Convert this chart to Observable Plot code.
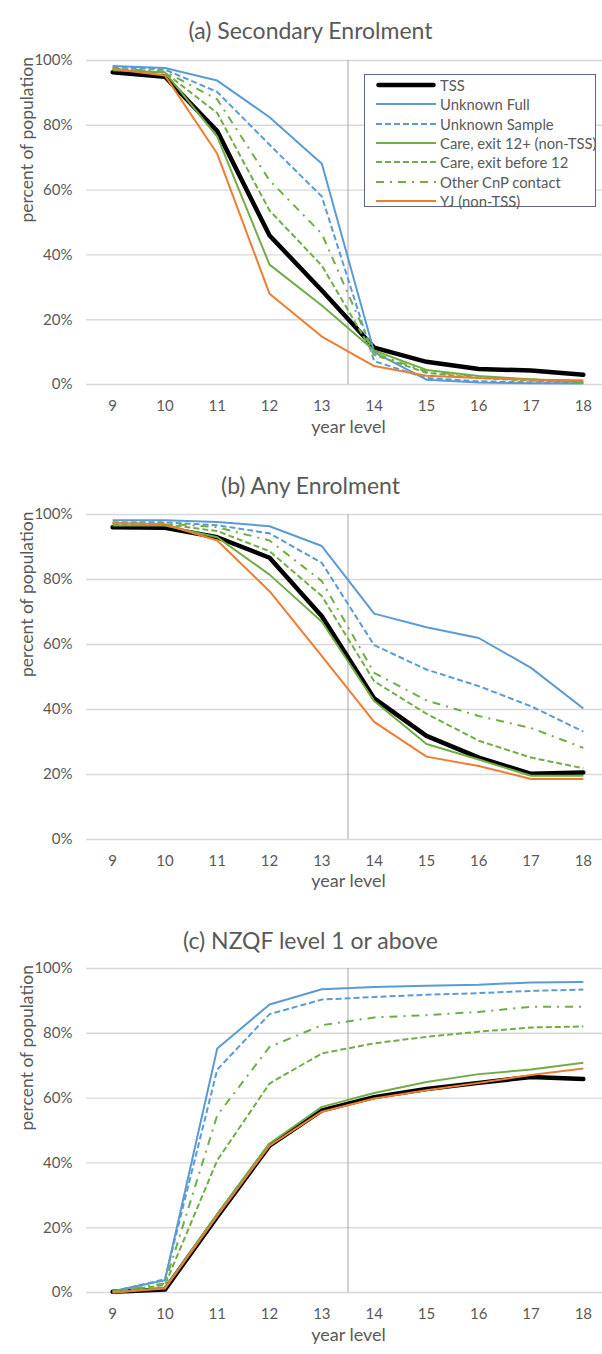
<!DOCTYPE html>
<html><head><meta charset="utf-8">
<script src="https://cdn.jsdelivr.net/npm/d3@7"></script>
<script src="https://cdn.jsdelivr.net/npm/@observablehq/plot@0.6"></script>
<style>
html,body{margin:0;padding:0;background:#fff}
body{width:602px;height:1354px;overflow:hidden;position:relative;font-family:Lato,"Open Sans",sans-serif;color:#595959}
.panel{position:absolute;left:0;width:602px}
.border{position:absolute;left:9px;width:1px;background:#cfcfcf}
.legend{position:absolute;left:364px;top:74px;width:232px;height:133px;border:1px solid #5a6a82;background:#fff;box-sizing:border-box}
.lrow{position:absolute;left:0;height:20px;display:flex;align-items:center;white-space:nowrap}
.lrow svg{display:block;margin-left:10px}
.lrow span{margin-left:3px;font-size:14.8px;color:#595959;font-family:Lato,sans-serif}
</style>
</head><body>
<div class="border" style="top:8px;height:439px"></div>
<div class="border" style="top:451px;height:447px"></div>
<div class="border" style="top:910px;height:444px"></div>
<div id="pa" class="panel" style="top:0"></div>
<div id="pb" class="panel" style="top:450px"></div>
<div id="pc" class="panel" style="top:900px"></div>
<div id="legend" class="legend"></div>
<script>
// ---------- data ----------
const years = [9, 10, 11, 12, 13, 14, 15, 16, 17, 18];
const seriesNames = ["TSS", "Unknown Full", "Unknown Sample", "Care, exit 12+ (non-TSS)", "Care, exit before 12", "Other CnP contact", "YJ (non-TSS)"];
const yTicks = [0, 20, 40, 60, 80, 100];
const panelTitles = ["(a) Secondary Enrolment", "(b) Any Enrolment", "(c) NZQF level 1 or above"];
const xLabel = "year level";
const yLabel = "percent of population";
const dividerAt = [13.5];

// (a) Secondary Enrolment, percent
const secTSS           = [96.4, 95.0, 78.2, 46.0, 29.0, 11.4, 7.0, 4.8, 4.3, 3.0];
const secUnknownFull   = [98.3, 97.7, 93.8, 82.5, 68.1, 10.0, 1.5, 0.6, 0.4, 0.3];
const secUnknownSample = [98.0, 97.2, 90.3, 74.0, 58.0, 7.2, 2.0, 1.0, 0.7, 0.5];
const secCare12        = [97.0, 96.3, 76.5, 37.0, 24.4, 10.5, 4.5, 2.6, 1.6, 0.8];
const secCareBefore    = [97.5, 96.3, 83.8, 53.7, 36.7, 9.2, 3.6, 2.0, 1.2, 0.8];
const secOtherCnP      = [97.5, 96.6, 88.0, 63.0, 46.5, 9.6, 4.0, 2.4, 1.5, 1.0];
const secYJ            = [97.4, 95.4, 71.2, 28.0, 14.8, 5.7, 2.7, 2.0, 1.5, 1.3];

// (b) Any Enrolment, percent
const anyTSS           = [96.1, 95.9, 93.0, 86.7, 68.7, 43.4, 31.9, 25.2, 20.2, 20.6];
const anyUnknownFull   = [98.2, 98.2, 97.7, 96.4, 90.3, 69.5, 65.3, 62.0, 52.8, 40.3];
const anyUnknownSample = [97.6, 97.6, 96.7, 94.2, 85.1, 59.8, 52.3, 47.2, 41.0, 33.2];
const anyCare12        = [96.6, 96.6, 93.0, 81.5, 67.0, 42.6, 29.4, 24.6, 19.6, 19.6];
const anyCareBefore    = [97.0, 97.0, 94.9, 88.7, 74.9, 48.7, 38.7, 30.4, 25.2, 21.9];
const anyOtherCnP      = [97.2, 97.2, 96.1, 92.0, 79.5, 51.3, 42.8, 38.0, 34.3, 28.2];
const anyYJ            = [97.4, 97.0, 92.0, 76.4, 56.4, 36.2, 25.5, 22.6, 18.6, 18.6];

// (c) NZQF level 1 or above, percent
const nzqTSS           = [0.2, 0.9, 23.4, 45.3, 56.2, 60.3, 62.8, 64.7, 66.5, 65.9];
const nzqUnknownFull   = [0.4, 3.8, 75.3, 88.9, 93.6, 94.3, 94.7, 95.0, 95.7, 95.8];
const nzqUnknownSample = [0.3, 4.1, 68.8, 85.9, 90.4, 91.2, 91.9, 92.4, 93.1, 93.5];
const nzqCare12        = [0.0, 1.5, 24.2, 46.0, 57.3, 61.6, 65.0, 67.4, 68.8, 70.9];
const nzqCareBefore    = [0.2, 2.3, 40.8, 64.5, 73.8, 76.9, 78.9, 80.5, 81.8, 82.1];
const nzqOtherCnP      = [0.2, 2.8, 54.7, 75.8, 82.5, 84.9, 85.6, 86.6, 88.2, 88.2];
const nzqYJ            = [0.0, 1.2, 23.6, 45.3, 55.8, 59.9, 62.4, 64.7, 67.1, 69.1];

// ---------- styles ----------
const seriesStyles = [
  {stroke: "#000000", strokeWidth: 4.5, dash: null, cap: "round"},
  {stroke: "#5B9BD5", strokeWidth: 2, dash: null, cap: "butt"},
  {stroke: "#5B9BD5", strokeWidth: 2, dash: "6,3", cap: "butt"},
  {stroke: "#70AD47", strokeWidth: 2, dash: null, cap: "butt"},
  {stroke: "#70AD47", strokeWidth: 2, dash: "6,3", cap: "butt"},
  {stroke: "#70AD47", strokeWidth: 2, dash: "8,6,2,6", cap: "butt"},
  {stroke: "#ED7D31", strokeWidth: 2, dash: null, cap: "butt"}
];

const panels = [
  {el: "pa", title: panelTitles[0], series: [secTSS, secUnknownFull, secUnknownSample, secCare12, secCareBefore, secOtherCnP, secYJ],
   height: 450, mt: 60, mb: 66, titleDy: -38, xlDy: 48},
  {el: "pb", title: panelTitles[1], series: [anyTSS, anyUnknownFull, anyUnknownSample, anyCare12, anyCareBefore, anyOtherCnP, anyYJ],
   height: 450, mt: 64, mb: 61, titleDy: -37, xlDy: 47},
  {el: "pc", title: panelTitles[2], series: [nzqTSS, nzqUnknownFull, nzqUnknownSample, nzqCare12, nzqCareBefore, nzqOtherCnP, nzqYJ],
   height: 454, mt: 68, mb: 62, titleDy: -36, xlDy: 48}
];

const ML = 86;
for (const p of panels) {
  const lineMarks = p.series.map((vals, i) => {
    const st = seriesStyles[i];
    const rows = years.map((yr, j) => ({year: yr, value: vals[j], series: seriesNames[i]}));
    const opts = {x: "year", y: "value", stroke: st.stroke, strokeWidth: st.strokeWidth,
      strokeLinejoin: "round", strokeLinecap: st.cap, curve: "linear"};
    if (st.dash) opts.strokeDasharray = st.dash;
    return Plot.line(rows, opts);
  });
  const chart = Plot.plot({
    width: 602,
    height: p.height,
    marginLeft: ML,
    marginRight: 0,
    marginTop: p.mt,
    marginBottom: p.mb,
    style: {fontFamily: "Lato, 'Open Sans', sans-serif", fontSize: "15px", color: "#595959", background: "#fff", overflow: "visible"},
    x: {domain: [8.5, 18.5], range: [ML, 609]},
    y: {domain: [0, 100]},
    marks: [
      Plot.ruleY(yTicks, {stroke: "#d9d9d9", strokeWidth: 1.4}),
      Plot.ruleX(dividerAt, {stroke: "#a6a6a6", strokeWidth: 1}),
      ...lineMarks,
      Plot.axisX(years, {tickSize: 0, tickPadding: 16, fontSize: 15, label: null}),
      Plot.axisY(yTicks, {tickSize: 0, tickPadding: 14, fontSize: 15, tickFormat: d => d + "%", label: null}),
      Plot.text([yLabel], {frameAnchor: "left", rotate: -90, dx: -59, fontSize: 17.5, fill: "#595959"}),
      Plot.text([xLabel], {frameAnchor: "bottom", dy: p.xlDy, dx: 4, fontSize: 18, fill: "#595959"}),
      Plot.text([p.title], {frameAnchor: "top", dy: p.titleDy, dx: -34, fontSize: 23, fill: "#595959"})
    ]
  });
  document.getElementById(p.el).appendChild(chart);
}

// ---------- legend (panel a) ----------
const legend = document.getElementById("legend");
seriesNames.forEach((name, i) => {
  const st = seriesStyles[i];
  const row = document.createElement("div");
  row.className = "lrow";
  row.style.top = (0 + i * 19.3) + "px";
  const ns = "http://www.w3.org/2000/svg";
  const svg = document.createElementNS(ns, "svg");
  svg.setAttribute("width", "62");
  svg.setAttribute("height", "20");
  const ln = document.createElementNS(ns, "line");
  const pad = st.cap === "round" ? 2.5 : 0;
  ln.setAttribute("x1", 1 + pad); ln.setAttribute("x2", 61 - pad);
  ln.setAttribute("y1", 10); ln.setAttribute("y2", 10);
  ln.setAttribute("stroke", st.stroke);
  ln.setAttribute("stroke-width", st.strokeWidth);
  ln.setAttribute("stroke-linecap", st.cap);
  if (st.dash) ln.setAttribute("stroke-dasharray", st.dash);
  svg.appendChild(ln);
  const sp = document.createElement("span");
  sp.textContent = name;
  row.appendChild(svg);
  row.appendChild(sp);
  legend.appendChild(row);
});
</script>
</body></html>
